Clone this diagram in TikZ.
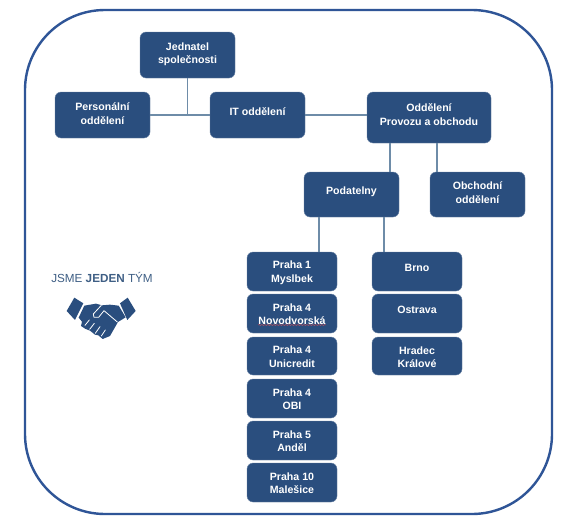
\documentclass[tikz,border=0pt]{standalone}
\usepackage{fontspec}
\setmainfont{Liberation Sans}
\usetikzlibrary{calc,decorations.pathmorphing}
\definecolor{boxblue}{HTML}{2A4E7E}
\definecolor{frameblue}{HTML}{2F5597}
\definecolor{linkblue}{HTML}{6E8CA8}
\definecolor{teamblue}{HTML}{3F5F85}
\tikzset{
  orgbox/.style={draw=boxblue!70!white,line width=0.4pt,fill=boxblue,rounded corners=6pt,inner sep=0pt,align=center,text=white,anchor=center,
    font=\fontsize{10.6}{13.5}\selectfont\bfseries},
  link/.style={draw=linkblue,line width=1.1pt},
  hand/.style={fill=boxblue,draw=none},
  handgap/.style={draw=white,line width=0.8pt,line cap=round,line join=round}
}
\newcommand{\orgnode}[6]{\node[orgbox,minimum width=#3pt-#2pt,minimum height=#5pt-#4pt] (#1) at ({(#2+#3)/2},{(#4+#5)/2}) {#6};}
\newcommand{\up}[2]{\raisebox{#1}[0pt][0pt]{\begin{tabular}{@{}c@{}}#2\end{tabular}}}
\begin{document}
\begin{tikzpicture}[x=1pt,y=-1pt]
\useasboundingbox (0,0) rectangle (578,522);
\fill[white] (0,0) rectangle (578,522);
\draw[frameblue,line width=2.4pt,rounded corners=80pt] (25,10) rectangle (552,514);
\orgnode{jed}{140}{235}{32}{78}{\up{-2pt}{Jednatel\\společnosti}}
\orgnode{per}{55}{150}{92}{138}{\up{-2.6pt}{Personální\\oddělení}}
\orgnode{it}{210}{305}{92}{138}{\up{-0.5pt}{IT oddělení}}
\orgnode{odd}{367}{491}{92}{143}{\up{-1pt}{Oddělení\\Provozu a obchodu}}
\orgnode{pod}{304}{399}{172}{217}{\up{0pt}{Podatelny}}
\orgnode{obc}{430}{525}{172}{217}{\up{-2pt}{Obchodní\\oddělení}}
\orgnode{pa}{247}{337}{252}{291}{\up{-4.1pt}{Praha 1\\Myslbek}}
\orgnode{pb}{247}{337}{294}{333}{\up{-4.6pt}{Praha 4\\Novodvorská}}
\orgnode{pc}{247}{337}{337}{375}{\up{-4.6pt}{Praha 4\\Unicredit}}
\orgnode{pd}{247}{337}{379}{418}{\up{-4.6pt}{Praha 4\\OBI}}
\orgnode{pe}{247}{337}{421}{460}{\up{-4.6pt}{Praha 5\\Anděl}}
\orgnode{pf}{247}{337}{463}{502}{\up{-4.6pt}{Praha 10\\Malešice}}
\orgnode{brn}{372}{462}{252}{291}{\up{0pt}{Brno}}
\orgnode{ost}{372}{462}{294}{333}{\up{0pt}{Ostrava}}
\orgnode{hra}{372}{462}{337}{375}{\up{-5pt}{Hradec\\Králové}}
\draw[link] (jed.south) -- (jed.south |- per.east);
\draw[link] (per.east) -- (it.west);
\draw[link] (it.east) -- (it.east -| odd.west);
\draw[link] ([xshift=-39pt]odd.south) -- ([xshift=-39pt]odd.south |- pod.north);
\draw[link] ([xshift=8pt]odd.south) -- ([xshift=8pt]odd.south |- obc.north);
\draw[link] ([xshift=-32.5pt]pod.south) -- ([xshift=-32.5pt]pod.south |- pa.north);
\draw[link] ([xshift=32.5pt]pod.south) -- ([xshift=32.5pt]pod.south |- brn.north);
\draw[red!55!boxblue!80!white,line width=0.5pt,decorate,decoration={snake,amplitude=0.5pt,segment length=3pt}]
  ([xshift=-34pt,yshift=-11.5pt]pb.center) -- ([xshift=34pt,yshift=-11.5pt]pb.center);
\node[text=teamblue,font=\fontsize{11.7}{13}\selectfont,inner sep=0pt] (team) at (102,277) {JSME \textbf{JEDEN} TÝM};
\begin{scope}[shift={(30,240)},x=0.3333pt,y=-0.3333pt]
  \fill[hand] (110,213) -- (133,173) -- (160,190) -- (135,240) -- cycle;
  \fill[hand] (270,190) -- (293,173) -- (317,213) -- (292,240) -- cycle;
  \fill[hand] (163,197) -- (198,191) -- (216,196) -- (240,194) -- (266,197) -- (287,232) -- (264,246)
     -- (240,288) -- (218,297) -- (205,286) -- (195,284) -- (180,272) -- (165,266) -- (153,258) -- (156,245) -- (146,233) -- cycle;
  \draw[handgap] (262,246) -- (222,212) -- (206,232) -- (192,232) -- (190,222) -- (214,196);
  \draw[handgap] (178,240) -- (165,256);
  \draw[handgap] (193,250) -- (179,268);
  \draw[handgap] (210,260) -- (196,280);
  \draw[handgap] (226,270) -- (214,288);
\end{scope}
\end{tikzpicture}
\end{document}
